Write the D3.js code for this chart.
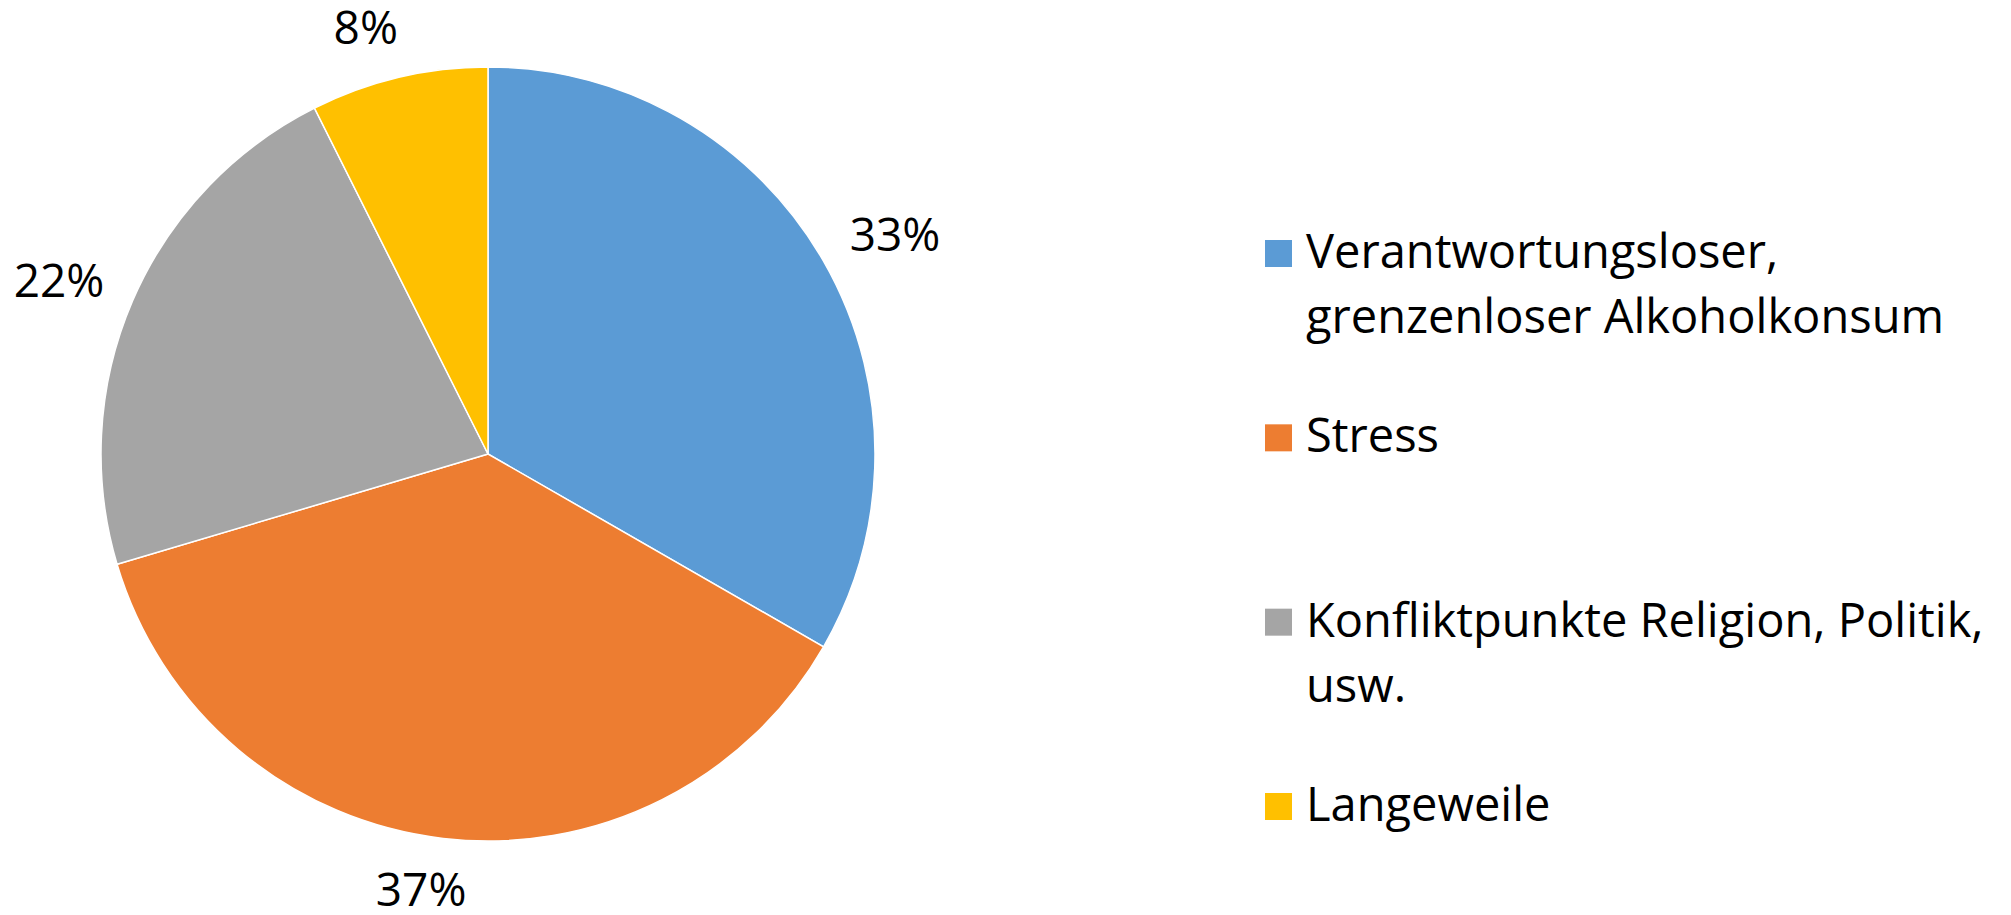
<!DOCTYPE html>
<html>
<head>
<meta charset="utf-8">
<script src="https://cdn.jsdelivr.net/npm/d3@7"></script>
<style>
  body { margin: 0; background: #fff; }
  text { font-family: "Open Sans", "Noto Sans", sans-serif; fill: #000; }
</style>
</head>
<body>
<div class="chart"></div>
<script>
let categories = ['Verantwortungsloser, grenzenloser Alkoholkonsum', 'Stress',
                  'Konfliktpunkte Religion, Politik, usw.', 'Langeweile'],
    legendLines = [['Verantwortungsloser,', 'grenzenloser Alkoholkonsum'],
                   ['Stress'],
                   ['Konfliktpunkte Religion, Politik,', 'usw.'],
                   ['Langeweile']],
    values = [33.3, 37.1, 22.2, 7.4],
    labels = ['33%', '37%', '22%', '8%'],
    colors = ['#5B9BD5', '#ED7D31', '#A5A5A5', '#FFC000'];

let width = 2011,
    height = 915,
    cx = 488, cy = 454, r = 387,
    labelR = 418,
    labelFont = 46,
    legendFont = 48;

let svg = d3.select('.chart')
            .append('svg')
            .attr('width', width)
            .attr('height', height);

let pie = d3.pie().sort(null).value(d => d),
    arcs = pie(values),
    arc = d3.arc().innerRadius(0).outerRadius(r);

let g = svg.append('g').attr('transform', `translate(${cx}, ${cy})`);

// slices
g.selectAll('path')
    .data(arcs)
    .enter()
    .append('path')
    .attr('d', arc)
    .attr('fill', (d, i) => colors[i])
    .attr('stroke', '#fff')
    .attr('stroke-width', 1.5);

// percentage labels: anchor just outside the edge, box shifted away from it
let clamp = v => Math.max(-1, Math.min(1, v));
g.selectAll('text.lbl')
    .data(arcs)
    .enter()
    .append('text')
    .attr('class', 'lbl')
    .attr('font-size', labelFont)
    .attr('text-anchor', 'middle')
    .text((d, i) => labels[i])
    .each(function(d) {
        let a = (d.startAngle + d.endAngle) / 2,
            sx = Math.sin(a), sy = -Math.cos(a),
            hw = this.getComputedTextLength() / 2,
            hh = 20,
            x = sx * labelR + hw * clamp(sx * 3.5),
            y = sy * labelR + hh * sy;
        d3.select(this)
          .attr('x', x)
          .attr('y', y + labelFont * 0.36);
    });

// legend
let ly = d3.scaleLinear().domain([0, 3]).range([268, 821]),
    lineH = 65,
    box = 27;

let items = svg.append('g')
    .selectAll('g')
    .data(categories)
    .enter()
    .append('g')
    .attr('transform', (d, i) => `translate(1265, ${ly(i)})`);

items.append('rect')
    .attr('x', 0)
    .attr('y', -box - 1)
    .attr('width', box)
    .attr('height', box)
    .attr('fill', (d, i) => colors[i]);

items.each(function(d, i) {
    let t = d3.select(this).append('text')
              .attr('font-size', legendFont)
              .attr('transform', 'translate(41, 0) scale(0.98, 1)');
    legendLines[i].forEach((line, j) => {
        t.append('tspan').attr('x', 0).attr('y', j * lineH).text(line);
    });
});
</script>
</body>
</html>
